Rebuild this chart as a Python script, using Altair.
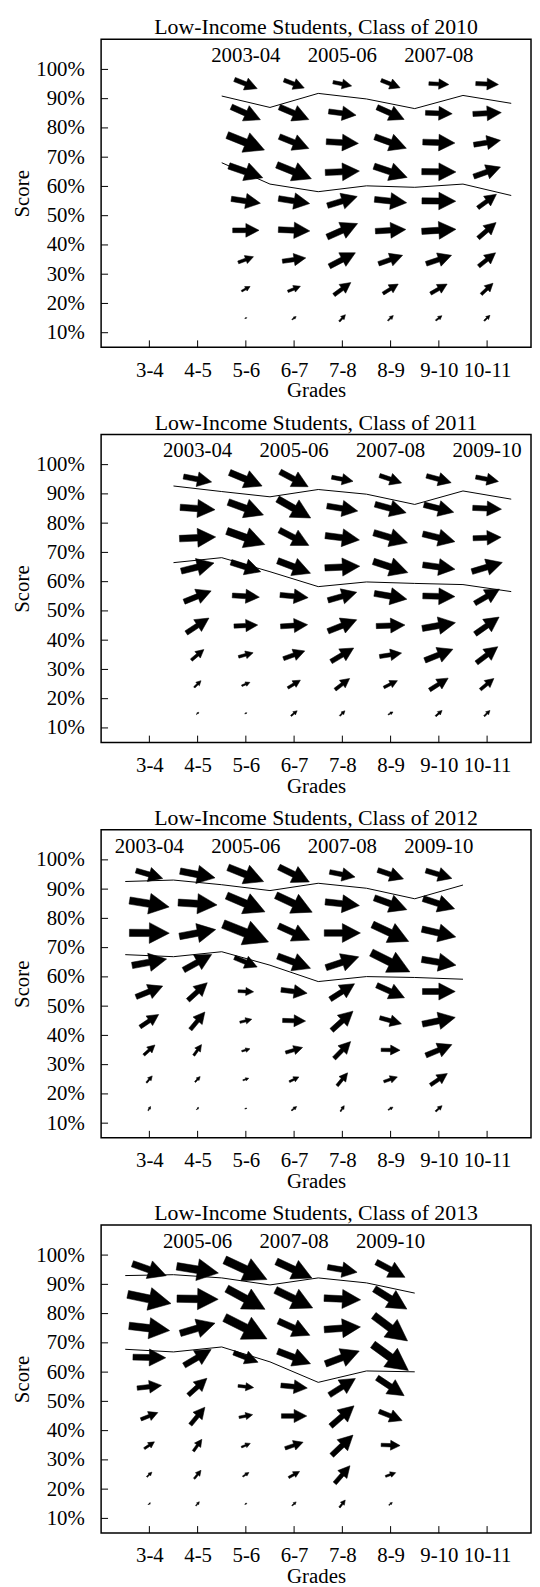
import altair as alt
import pandas as pd

FONT = "Liberation Serif"
FS = 21

GRADES = ["3-4", "4-5", "5-6", "6-7", "7-8", "8-9", "9-10", "10-11"]
SCORE_TICKS = [10, 20, 30, 40, 50, 60, 70, 80, 90, 100]
ROWS = [95, 85, 75, 65, 55, 45, 35, 25, 15]

# ---- Class of 2010 (columns 5-6 .. 10-11) : horizontal (u) and upward (v) components
C2010_START = 3
C2010_U = [
    [67, 60, 55, 56, 59, 67],
    [86, 87, 81, 80, 79, 84],
    [110, 87, 95, 93, 95, 79],
    [100, 102, 101, 98, 101, 79],
    [86, 92, 88, 95, 100, 55],
    [78, 93, 90, 90, 101, 53],
    [45, 69, 77, 71, 75, 50],
    [25, 37, 50, 45, 49, 35],
    [6, 12, 18, 16, 18, 17],
]
C2010_V = [
    [-27, -23, -11, -22, -3, -3],
    [-38, -37, -11, -36, -3, 4],
    [-44, -35, -5, -34, -3, 13],
    [-35, -41, 4, -33, -1, 28],
    [-13, -15, 27, -10, -1, 40],
    [0, -4, 40, 5, 6, 46],
    [17, 10, 40, 25, 25, 40],
    [14, 15, 37, 28, 28, 33],
    [2, 9, 20, 15, 14, 16],
]
C2010_LINE_X0 = 2.5
C2010_UPPER = [90.9, 87.0, 91.8, 89.9, 86.6, 91.1, 88.4]
C2010_LOWER = [68.1, 60.8, 58.2, 60.2, 59.7, 60.8, 56.9]
C2010_YEARS = ["2003-04", "2005-06", "2007-08"]
C2010_YEAR_POS = [3, 5, 7]

# ---- Class of 2011 (columns 4-5 .. 10-11)
C2011_START = 2
C2011_U = [
    [83, 96, 83, 63, 65, 73, 67],
    [103, 104, 98, 91, 92, 88, 85],
    [107, 112, 87, 101, 100, 95, 83],
    [97, 88, 97, 103, 102, 95, 90],
    [80, 80, 83, 85, 96, 95, 73],
    [67, 70, 80, 85, 85, 98, 71],
    [37, 43, 63, 67, 65, 83, 63],
    [20, 24, 37, 43, 40, 55, 40],
    [7, 6, 18, 15, 14, 19, 17],
]
C2011_V = [
    [-16, -40, -44, -12, -22, -20, -13],
    [-7, -38, -56, -15, -25, -22, -4],
    [5, -40, -45, -13, -30, -23, 3],
    [24, -28, -37, 5, -33, -13, 27],
    [32, -5, -8, 24, -17, -2, 42],
    [44, 3, 5, 34, 3, 17, 50],
    [31, 12, 23, 40, 10, 33, 48],
    [20, 10, 23, 33, 20, 35, 33],
    [6, 3, 15, 15, 8, 17, 17],
]
C2011_LINE_X0 = 1.5
C2011_UPPER = [92.7, 90.8, 89.0, 91.5, 89.9, 86.4, 91.0, 88.2]
C2011_LOWER = [66.5, 68.2, 63.4, 58.3, 59.9, 59.4, 59.0, 56.6]
C2011_YEARS = ["2003-04", "2005-06", "2007-08", "2009-10"]
C2011_YEAR_POS = [2, 4, 6, 8]

# ---- Class of 2012 (columns 3-4 .. 9-10)
C2012_START = 1
C2012_U = [
    [79, 103, 105, 90, 75, 76, 77],
    [117, 115, 113, 107, 101, 96, 93],
    [118, 107, 134, 92, 107, 107, 100],
    [102, 83, 67, 97, 97, 114, 101],
    [79, 57, 46, 77, 72, 82, 97],
    [55, 43, 35, 68, 63, 64, 97],
    [33, 23, 24, 50, 49, 56, 77],
    [17, 15, 17, 28, 31, 40, 50],
    [7, 6, 6, 15, 11, 14, 19],
]
C2012_V = [
    [-23, -20, -42, -44, -15, -26, -23],
    [-19, -7, -48, -50, -11, -35, -30],
    [-1, 20, -53, -42, 0, -50, -23],
    [19, 46, -28, -36, 32, -57, -17],
    [32, 52, -2, -10, 46, -37, 0],
    [37, 52, 9, -2, 57, -18, 20],
    [30, 32, 7, 15, 50, -1, 32],
    [20, 16, 6, 14, 38, 14, 34],
    [12, 7, 2, 12, 17, 8, 17],
]
C2012_LINE_X0 = 0.5
C2012_UPPER = [92.6, 93.1, 91.5, 89.5, 92.0, 90.3, 86.7, 91.4]
C2012_LOWER = [67.6, 66.9, 68.6, 64.0, 58.4, 60.1, 59.8, 59.2]
C2012_YEARS = ["2003-04", "2005-06", "2007-08", "2009-10"]
C2012_YEAR_POS = [1, 3, 5, 7]

# ---- Class of 2013 (columns 3-4 .. 8-9)
C2013_START = 1
C2013_U = [
    [100, 123, 125, 105, 87, 85],
    [128, 122, 113, 110, 108, 96],
    [120, 103, 125, 93, 107, 100],
    [97, 80, 72, 97, 100, 105],
    [72, 55, 46, 78, 77, 80],
    [50, 43, 40, 75, 69, 68],
    [30, 25, 26, 53, 63, 56],
    [15, 20, 18, 32, 45, 30],
    [6, 10, 6, 12, 17, 10],
]
C2013_V = [
    [-35, -20, -58, -49, -15, -45],
    [-27, -2, -61, -53, -5, -60],
    [-14, 30, -63, -42, 8, -75],
    [-2, 47, -28, -37, 38, -77],
    [8, 50, -5, -8, 49, -53],
    [20, 52, 8, 0, 60, -27],
    [20, 35, 11, 18, 60, -2],
    [14, 25, 12, 18, 52, 11],
    [6, 12, 3, 11, 22, 8],
]
C2013_LINE_X0 = 0.5
C2013_UPPER = [93.0, 93.3, 92.2, 89.8, 92.2, 90.5, 87.0]
C2013_LOWER = [67.8, 66.9, 68.6, 63.5, 56.5, 60.4, 60.1]
C2013_YEARS = ["2005-06", "2007-08", "2009-10"]
C2013_YEAR_POS = [2, 4, 6]

YEAR_LABEL_Y = 104.5

W, H = 434, 311
ARROW = "M-1,-0.18L0,-0.18L0,-0.52L1,0L0,0.52L0,0.18L-1,0.18Z"

grade_expr = "[''," + ",".join("'%s'" % g for g in GRADES) + "][datum.value]"

xscale = alt.Scale(domain=[0, 8.91], nice=False, zero=False)
yscale = alt.Scale(domain=[5, 110.3], nice=False, zero=False)

xaxis = alt.Axis(values=list(range(1, len(GRADES) + 1)), labelExpr=grade_expr,
                 title="Grades", grid=False, ticks=False, domain=False,
                 labelFont=FONT, labelFontSize=FS, labelColor="black",
                 labelPadding=12, labelFlush=False, labelOverlap=False,
                 titleFont=FONT, titleFontSize=FS, titleFontWeight="normal",
                 titleColor="black", titlePadding=0)
yaxis = alt.Axis(values=SCORE_TICKS, labelExpr="datum.value + '%'",
                 title="Score", grid=False, ticks=False, domain=False,
                 labelFont=FONT, labelFontSize=FS, labelColor="black",
                 labelPadding=17, labelOverlap=False,
                 titleFont=FONT, titleFontSize=FS, titleFontWeight="normal",
                 titleColor="black", titlePadding=3)


def panel(cls, start, U, V, line_x0, upper, lower, years, year_pos):
    recs = []
    for r, score in enumerate(ROWS):
        for c in range(len(U[r])):
            recs.append({"g": start + c, "s": score, "u": U[r][c], "v": V[r][c]})
    arrows_df = pd.DataFrame(recs)
    line_recs = [{"g": line_x0 + i, "s": val, "k": "upper"} for i, val in enumerate(upper)]
    line_recs += [{"g": line_x0 + i, "s": val, "k": "lower"} for i, val in enumerate(lower)]
    lines_df = pd.DataFrame(line_recs)
    years_df = pd.DataFrame({"g": year_pos, "label": years, "s": [YEAR_LABEL_Y] * len(years)})
    xt_df = pd.DataFrame({"g": list(range(1, len(GRADES) + 1))})
    yt_df = pd.DataFrame({"s": SCORE_TICKS})

    X = alt.X("g:Q", scale=xscale, axis=xaxis)
    Y = alt.Y("s:Q", scale=yscale, axis=yaxis)

    arrows = alt.Chart(arrows_df).mark_point(
        shape=ARROW, filled=True, color="black", opacity=1, stroke="black", strokeWidth=0.5
    ).transform_calculate(
        ang="(atan2(-datum.v, datum.u) * 180 / PI + 360) % 360",
        mag="sqrt(datum.u * datum.u + datum.v * datum.v)",
    ).encode(
        x=X, y=Y,
        angle=alt.Angle("ang:Q", scale=alt.Scale(domain=[0, 360], range=[0, 360])),
        size=alt.Size("mag:Q", scale=alt.Scale(type="pow", exponent=2, domain=[0, 150], range=[0, 2621]), legend=None),
    )
    lines = alt.Chart(lines_df).mark_line(color="black", strokeWidth=1).encode(
        x=X, y=Y, detail="k:N"
    )
    texts = alt.Chart(years_df).mark_text(
        font=FONT, fontSize=FS, color="black", align="center", baseline="middle"
    ).encode(x=X, y=Y, text="label:N")
    xticks = alt.Chart(xt_df).mark_rule(color="black", strokeWidth=1).encode(
        x=X, y=alt.value(H), y2=alt.value(H - 7)
    )
    yticks = alt.Chart(yt_df).mark_rule(color="black", strokeWidth=1).encode(
        y=Y, x=alt.value(0), x2=alt.value(7)
    )
    return alt.layer(xticks, yticks, lines, arrows, texts).properties(
        width=W, height=H,
        title=alt.TitleParams(text="Low-Income Students, Class of %d" % cls, font=FONT,
                              fontSize=22, fontWeight="normal", color="black",
                              anchor="middle", offset=0),
    )


chart = alt.vconcat(
    panel(2010, C2010_START, C2010_U, C2010_V, C2010_LINE_X0, C2010_UPPER, C2010_LOWER, C2010_YEARS, C2010_YEAR_POS),
    panel(2011, C2011_START, C2011_U, C2011_V, C2011_LINE_X0, C2011_UPPER, C2011_LOWER, C2011_YEARS, C2011_YEAR_POS),
    panel(2012, C2012_START, C2012_U, C2012_V, C2012_LINE_X0, C2012_UPPER, C2012_LOWER, C2012_YEARS, C2012_YEAR_POS),
    panel(2013, C2013_START, C2013_U, C2013_V, C2013_LINE_X0, C2013_UPPER, C2013_LOWER, C2013_YEARS, C2013_YEAR_POS),
    spacing=9,
).properties(
    padding={"left": 3, "top": 0, "right": 0, "bottom": 0}
).configure_view(stroke="black", strokeWidth=1.5)

chart.save("out.html", embed_options={"renderer": "svg", "actions": False})
